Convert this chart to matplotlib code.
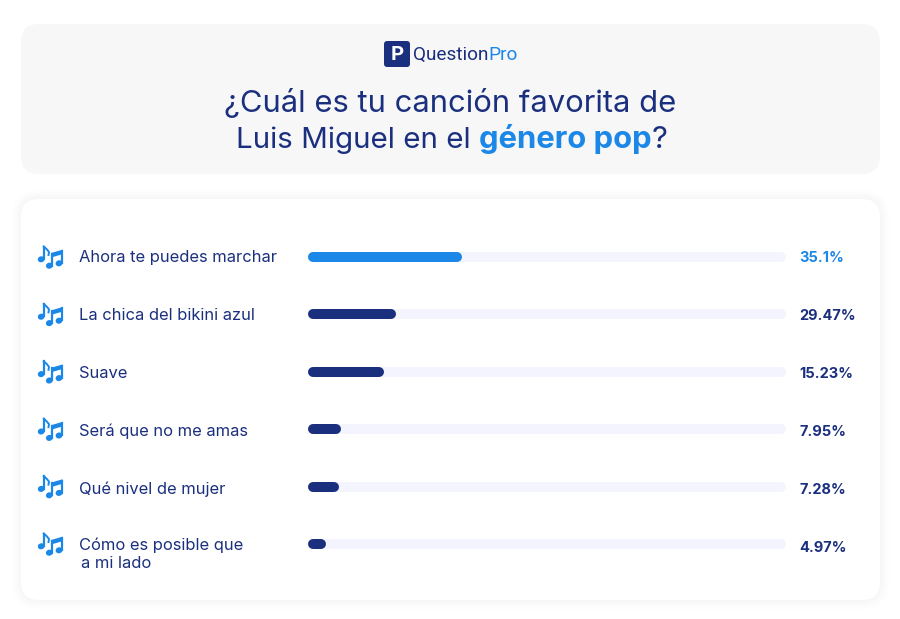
import matplotlib
matplotlib.use('Agg')
import matplotlib.pyplot as plt
import matplotlib.patches as patches

# canciones, etiquetas y largo de barra
songs = ['Ahora te puedes marchar', 'La chica del bikini azul', 'Suave',
         'Será que no me amas', 'Qué nivel de mujer', 'Cómo es posible que\na mi lado']
value_labels = ['35.1%', '29.47%', '15.23%', '7.95%', '7.28%', '4.97%']
bar_lengths = [32.2, 18.4, 16.0, 6.9, 6.4, 3.8]
track_length = [100, 100, 100, 100, 100, 100]

NAVY = '#1b2f7f'
BLUE = '#1b87e6'
TRACK = '#f3f4fd'
FONT = 'Inter'

plt.rcParams['font.family'] = [FONT, 'DejaVu Sans']

W, H = 900, 619
fig = plt.figure(figsize=(W / 100, H / 100), dpi=100, facecolor='white')

# fondo en pixeles
bg = fig.add_axes([0, 0, 1, 1])
bg.set_xlim(0, W)
bg.set_ylim(H, 0)
bg.axis('off')


def card(x1, y1, x2, y2, color, r=18, zorder=1, alpha=1.0):
    bg.add_patch(patches.FancyBboxPatch(
        (x1 + r, y1 + r), x2 - x1 - 2 * r, y2 - y1 - 2 * r,
        boxstyle='round,pad=%d,rounding_size=%d' % (r, r),
        facecolor=color, edgecolor='none', zorder=zorder, alpha=alpha))


def notes(cy, color=BLUE):
    # icono de notas musicales, cy = centro de la fila
    for cx, hy in [(41.2, 2.3), (49.3, 8.7), (59, 6.3)]:
        bg.add_patch(patches.Ellipse((cx, cy + hy), 6.8, 6.0, angle=-15, color=color, lw=0, zorder=4))
    bg.plot([43.8, 43.8], [cy + 2, cy - 10.5], color=color, lw=1.6, zorder=4)
    bg.plot([43.8, 47, 49, 48.5], [cy - 10.5, cy - 7.5, cy - 5, cy - 2], color=color, lw=1.4, zorder=4)
    bg.plot([52, 52], [cy + 8.5, cy - 3.5], color=color, lw=1.6, zorder=4)
    bg.plot([61.6, 61.6], [cy + 6, cy - 6], color=color, lw=1.6, zorder=4)
    bg.add_patch(patches.Polygon([(51.1, cy - 4), (62.5, cy - 7.3), (62.5, cy - 2.8), (51.1, cy + 0.5)],
                                 color=color, lw=0, zorder=4))


def text_row(x, y, pieces, **kw):
    # texto con varios estilos, centrado en x
    fig.canvas.draw()
    renderer = fig.canvas.get_renderer()
    items = []
    total = 0
    for s, color, weight, size in pieces:
        t = bg.text(0, y, s, color=color, fontweight=weight, fontsize=size, va='baseline', ha='left', zorder=5, **kw)
        w = t.get_window_extent(renderer).width
        items.append((t, w))
        total += w
    pos = x - total / 2
    for t, w in items:
        t.set_x(pos)
        pos += w


# paneles
card(21, 24, 880, 174, '#f7f7f7')
for grow, a in [(10, 0.004), (8, 0.005), (6, 0.006), (4, 0.007), (2, 0.008)]:
    card(21 - grow, 199 - grow, 880 + grow, 600 + grow, '#000000', r=18 + grow, zorder=1, alpha=a)
card(21, 199, 880, 600, 'white', zorder=2)

# logo
card(384, 41, 410, 67, NAVY, r=3, zorder=3)
bg.text(397, 54.5, 'P', color='white', fontweight='bold', fontsize=14.5, ha='center', va='center', zorder=5)
text_row(465.5, 60, [('Question', NAVY, 'normal', 13.7), ('Pro', BLUE, 'normal', 13.7)], family=['Roboto'])

# titulo
text_row(450, 112, [('¿Cuál es tu canción favorita de', NAVY, 'normal', 22.3)])
text_row(451.5, 148, [('Luis Miguel en el ', NAVY, 'normal', 21.3), ('género pop', BLUE, 'bold', 22.3),
                      ('?', NAVY, 'normal', 22.3)])

# barras
ax = fig.add_axes([308 / W, 1 - 572.7 / H, 478 / W, 344.4 / H], zorder=3)
ax.set_xlim(0, 100)
ax.set_ylim(5.5, -0.5)
ax.axis('off')
ax.patch.set_alpha(0)

cap = 5 / 4.78  # medio alto de barra, en unidades de x
rows = list(range(len(songs)))
ax.hlines(rows, cap, [v - cap for v in track_length], color=TRACK, lw=7.2, capstyle='round')
ax.hlines(rows, cap, [v - cap for v in bar_lengths], color=[BLUE] + [NAVY] * 5, lw=7.2, capstyle='round')

for i, song in enumerate(songs):
    notes(257 + 57.4 * i)
    lines = song.split('\n')
    # la etiqueta de dos lineas sube un poco
    base = 262.3 + 58 * i - (2.3 if len(lines) > 1 else 0)
    for j, line in enumerate(lines):
        bg.text(79 + 2 * j, base + 18.4 * j, line, color=NAVY, fontsize=11.9, va='baseline', ha='left', zorder=5)
    bg.text(799.5, 262.5 + 58 * i, value_labels[i], color=BLUE if i == 0 else NAVY, fontsize=10.5, fontweight='bold',
            va='baseline', ha='left', zorder=5)

fig.savefig('out.png', dpi=100)
